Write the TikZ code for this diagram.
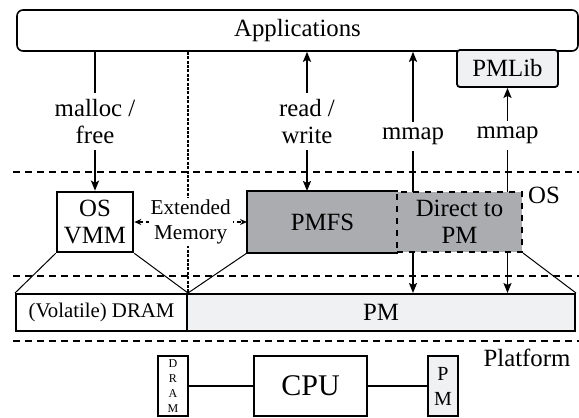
\documentclass[tikz,border=0pt]{standalone}
\usepackage{fontspec}
\setmainfont{Liberation Serif}
\usetikzlibrary{arrows.meta,positioning}
\definecolor{fsgray}{RGB}{171,172,175}
\definecolor{pmfill}{RGB}{239,241,243}
\pgfdeclarelayer{background}
\pgfsetlayers{background,main}

\begin{document}
\begin{tikzpicture}[x=0.5pt, y=-0.5pt, font=\rmfamily\fontsize{12.4}{13.6}\selectfont,
  >={Stealth[length=5pt,width=4pt,inset=1pt]},
  box/.style = {draw, line width=1pt, minimum height=30pt, inner sep=0pt, align=center},
  lbl/.style = {fill=white, align=center, inner sep=3pt},
  arr/.style = {line width=0.9pt},
  sep/.style = {line width=0.8pt, dash pattern=on 3.6pt off 2.4pt},
  edge/.style = {line width=0.5pt}]
\useasboundingbox (0,0) rectangle (579,418);

% layer separators
\draw[sep] (13,172) -- (579,172);
\draw[sep] (13,276) -- (579,276);
\draw[sep] (13,341) -- (579,341);

\node[box, rounded corners=3pt, line width=0.8pt, minimum width=280.5pt, minimum height=20.5pt] (app) at (297.5,30.5) {Applications};
\node[box, rounded corners=1.5pt, line width=0.9pt, fill=pmfill, minimum width=50.5pt, minimum height=18.5pt] (pmlib) at (507.5,68.5) {PMLib};

% OS layer
\node[box, line width=1.3pt, fill=white, minimum width=38pt] (vmm) at (95,222) {OS\\VMM};
\node[box, draw=none, fill=fsgray, minimum width=74.5pt] (pmfs) at (322.5,222) {PMFS};
\node[box, dashed, fill=fsgray, minimum width=62.5pt] (direct) at (459.5,222) {Direct to\\PM};
\draw[line width=1pt] (pmfs.north east) -- (pmfs.north west) -- (pmfs.south west) -- (pmfs.south east);
\node (oslbl) at (544,195) {OS};

% memory
\node[box, minimum width=85.5pt, minimum height=18.5pt, font=\fontsize{10.4}{12}\selectfont] (dram) at (101.5,312.5) {(Volatile) DRAM};
\node[box, fill=pmfill, minimum width=194pt, minimum height=18.5pt] (pm) at (381,312.5) {PM};

% platform
\node[box, minimum width=15pt, font=\fontsize{6}{7.5}\selectfont] (dchip) at (173,386) {D\\R\\A\\M};
\node[box, minimum width=56.5pt, font=\fontsize{15}{18}\selectfont] (cpu) at (310.5,386) {CPU};
\node[box, fill=pmfill, minimum width=15pt, font=\fontsize{10}{12.5}\selectfont] (pchip) at (443,386) {P\\M};
\node (plat) at (527,358) {Platform};
\draw[arr] (dchip) -- (cpu);
\draw[arr] (cpu) -- (pchip);

\coordinate (rw) at (307,0);
\coordinate (m1) at (413,0);

\draw[line width=1pt, dash pattern=on 1.5pt off 0.7pt] (app.south -| dram.east) -- (dram.north east);
\draw[arr, ->] (app.south -| vmm) -- node[lbl] {malloc /\\free} (vmm.north);
\draw[arr, <->] (app.south -| rw) -- node[lbl] {read /\\write} (pmfs.north -| rw);
\draw[line width=0.7pt, dash pattern=on 2pt off 1.5pt, {Stealth[length=3.5pt,width=3pt]}-{Stealth[length=3.5pt,width=3pt]}]
  (vmm.east) -- node[fill=white, inner sep=1pt, align=center, font=\fontsize{10.6}{12.5}\selectfont] {Extended\\Memory} (pmfs.west);

\begin{pgfonlayer}{background}
\draw[arr, <->] (app.south -| m1) -- node[lbl, pos=0.35] {mmap} (pm.north -| m1);
\draw[arr, <->] (pmlib.south) -- node[lbl, pos=0.23] {mmap} (pm.north -| pmlib);
\draw[edge] (vmm.south west) -- (dram.north west);
\draw[edge] (vmm.south east) -- (dram.north east);
\draw[edge] (pmfs.south west) -- (dram.north east);
\draw[edge] (direct.south east) -- (pm.north east);
\end{pgfonlayer}
\end{tikzpicture}
\end{document}
